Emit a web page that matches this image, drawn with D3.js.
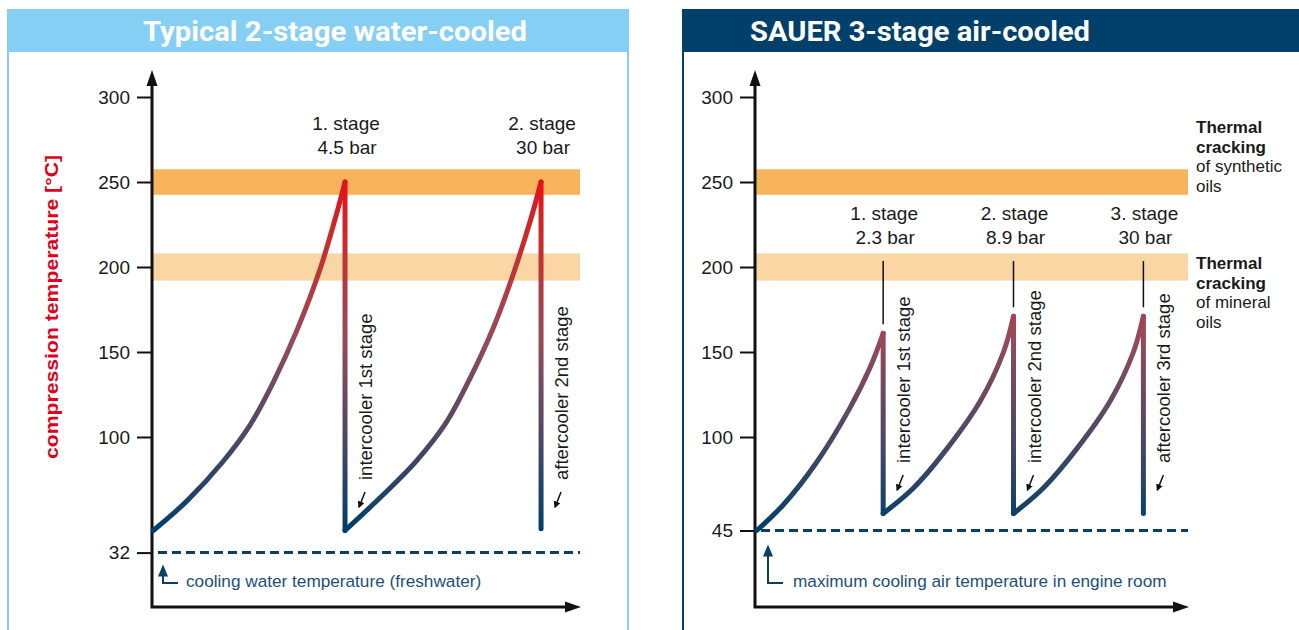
<!DOCTYPE html>
<html>
<head>
<meta charset="utf-8">
<script src="https://cdn.jsdelivr.net/npm/d3@7"></script>
<style>
  body { margin: 0; background: #fff; }
  svg { display: block; font-family: "Liberation Sans", Arial, sans-serif; }
</style>
</head>
<body>
<script>
// ---- data ----
const leftTicks = [32, 100, 150, 200, 250, 300];
const rightTicks = [45, 100, 150, 200, 250, 300];

// thermal cracking bands [from, to] in °C: synthetic oils, mineral oils
const crackingBands = [[242.5, 257.5], [192, 208]];

const leftStages = ["1. stage", "2. stage"];
const leftPressures = ["4.5 bar", "30 bar"];
const rightStages = ["1. stage", "2. stage", "3. stage"];
const rightPressures = ["2.3 bar", "8.9 bar", "30 bar"];

const leftCoolers = ["intercooler 1st stage", "aftercooler 2nd stage"];
const rightCoolers = ["intercooler 1st stage", "intercooler 2nd stage", "aftercooler 3rd stage"];

const leftCoolingTemp = 32;
const rightCoolingTemp = 45;

// compression curves, [process position 0..100, temperature °C]
const leftRise = [
  [[0.3, 45], [8, 62], [16.4, 85], [22.9, 107], [28.3, 132], [33.9, 163], [39.3, 199], [43.2, 232], [45.1, 250]],
  [[45.1, 45], [54, 66], [61.8, 86], [68.6, 108], [74, 133], [79.7, 164], [84.3, 195], [88.6, 229], [90.9, 250]]
];
// cooling drops [position, from °C, to °C]
const leftDrops = [[45.1, 250, 45], [90.9, 250, 46]];

const rightRise = [
  [[0.4, 45], [6.5, 60], [14.2, 85], [21.9, 117], [26.6, 141], [29.6, 161]],
  [[29.6, 55], [36.6, 70], [44.3, 93], [52, 121], [57.4, 150], [59.7, 171]],
  [[59.7, 55], [66.6, 70], [74.3, 93], [82, 121], [87.4, 150], [89.7, 171]]
];
const rightDrops = [[29.6, 161, 55], [59.7, 171, 55], [89.7, 171, 55]];

const syntheticLabel = ["Thermal", "cracking", "of synthetic", "oils"];
const mineralLabel = ["Thermal", "cracking", "of mineral", "oils"];

// ---- drawing ----
const W = 1299, H = 630;
const svg = d3.select("body").append("svg").attr("width", W).attr("height", H);
const defs = svg.append("defs");

defs.append("marker")
  .attr("id", "tip")
  .attr("viewBox", "0 0 10 10")
  .attr("refX", 8).attr("refY", 5)
  .attr("markerWidth", 7).attr("markerHeight", 7)
  .attr("markerUnits", "userSpaceOnUse")
  .attr("orient", "auto")
  .append("path").attr("d", "M0,0 L10,5 L0,10 z").attr("fill", "#111");

const bandColors = ["#f8b45d", "#fbd6a5"];
const navy = "#0b3f66";
const y = d3.scaleLinear().domain([0, 300]).range([607, 97]);

function drawPanel(p) {
  const g = svg.append("g");
  const x = d3.scaleLinear().domain([0, 100]).range(p.xRange);
  const x0 = x(0);

  // frame + header
  g.append("rect")
    .attr("x", p.frame[0]).attr("y", 10)
    .attr("width", p.frame[1] - p.frame[0]).attr("height", H)
    .attr("fill", "none").attr("stroke", p.frameColor).attr("stroke-width", 2);
  g.append("rect")
    .attr("x", p.frame[0] - 1).attr("y", 10)
    .attr("width", p.frame[1] - p.frame[0] + 2).attr("height", 42)
    .attr("fill", p.frameColor);
  g.append("text")
    .attr("x", p.titleX).attr("y", 41)
    .attr("text-anchor", p.titleAnchor)
    .attr("textLength", p.titleLen).attr("lengthAdjust", "spacingAndGlyphs")
    .style("font-family", "Roboto, sans-serif")
    .style("font-weight", 700).style("font-size", "27px")
    .attr("fill", "#fff")
    .text(p.title);

  // cracking bands
  g.selectAll(".band")
    .data(crackingBands)
    .join("rect")
    .attr("x", x0 + 1)
    .attr("width", x(100) - x0 - 1)
    .attr("y", d => y(d[1]))
    .attr("height", d => y(d[0]) - y(d[1]))
    .attr("fill", (d, i) => bandColors[i]);

  // y axis ticks
  const ax = g.append("g")
    .attr("transform", `translate(${x0},0)`)
    .call(d3.axisLeft(y).tickValues(p.ticks).tickSize(15).tickPadding(7).tickFormat(d3.format("d")));
  ax.select(".domain").remove();
  ax.selectAll(".tick line").attr("stroke", "#111").attr("stroke-width", 2);
  ax.selectAll(".tick text")
    .attr("fill", "#1a1a1a")
    .style("font-family", "\"Liberation Sans\", Arial, sans-serif")
    .style("font-size", "19px");

  // axes with arrowheads
  g.append("path")
    .attr("d", `M${x0},${y(0) + 1.5}V80M${x0 - 1.5},${y(0)}H${x(100) - 12}`)
    .attr("fill", "none").attr("stroke", "#111").attr("stroke-width", 3);
  g.append("path")
    .attr("d", `M${x0},70L${x0 - 5.5},86L${x0 + 5.5},86Z`)
    .attr("fill", "#111");
  g.append("path")
    .attr("d", `M${x(100) + 1},${y(0)}L${x(100) - 15},${y(0) - 5.5}L${x(100) - 15},${y(0) + 5.5}Z`)
    .attr("fill", "#111");

  // cooling temperature line
  g.append("line")
    .attr("x1", x0 + 6).attr("x2", x(100))
    .attr("y1", y(p.coolTemp)).attr("y2", y(p.coolTemp))
    .attr("stroke", navy).attr("stroke-width", 3)
    .attr("stroke-dasharray", "9,5");

  // marker bracket + note
  const bx = x0 + p.noteArrowDx;
  g.append("path")
    .attr("d", `M${bx},${y(p.coolTemp) + p.noteArrowTop + 10}V583H${bx + 15}`)
    .attr("fill", "none").attr("stroke", navy).attr("stroke-width", 2);
  g.append("path")
    .attr("d", `M${bx},${y(p.coolTemp) + p.noteArrowTop}l-5,12h10z`)
    .attr("fill", navy);
  g.append("text")
    .attr("x", x0 + p.noteDx).attr("y", 587)
    .attr("fill", "#1c4f7c")
    .style("font-size", "17.2px")
    .text(p.note);

  // temperature curves with vertical colour gradient
  const gid = "grad" + p.id;
  const grad = defs.append("linearGradient")
    .attr("id", gid).attr("gradientUnits", "userSpaceOnUse")
    .attr("x1", 0).attr("x2", 0).attr("y1", y(45)).attr("y2", y(250));
  [[0, "#003f69"], [0.25, "#474866"], [0.55, "#964a5a"], [0.8, "#c4302f"], [1, "#e3121b"]]
    .forEach(s => grad.append("stop").attr("offset", s[0]).attr("stop-color", s[1]));

  const line = d3.line().x(d => x(d[0])).y(d => y(d[1])).curve(d3.curveCatmullRom.alpha(0.5));
  g.selectAll(".rise")
    .data(p.rise)
    .join("path")
    .attr("d", line)
    .attr("fill", "none").attr("stroke", `url(#${gid})`)
    .attr("stroke-width", 5).attr("stroke-linecap", "round").attr("stroke-linejoin", "round");
  g.selectAll(".drop")
    .data(p.drops)
    .join("path")
    .attr("d", d => `M${x(d[0])},${y(d[1])}V${y(d[2])}`)
    .attr("fill", "none").attr("stroke", `url(#${gid})`)
    .attr("stroke-width", 5).attr("stroke-linecap", "round");

  // stage labels above the peaks
  const st = g.selectAll(".stage")
    .data(p.drops)
    .join("text")
    .attr("text-anchor", "middle")
    .attr("fill", "#1a1a1a")
    .style("font-size", "19px");
  st.append("tspan")
    .attr("x", d => x(d[0]) + 1).attr("y", p.stageY)
    .text((d, i) => p.stages[i]);
  st.append("tspan")
    .attr("x", d => x(d[0]) + 2).attr("y", p.stageY + 24)
    .text((d, i) => p.pressures[i]);

  // leader lines (right panel)
  if (p.leaders) {
    g.selectAll(".leader")
      .data(p.drops)
      .join("line")
      .attr("x1", d => x(d[0])).attr("x2", d => x(d[0]))
      .attr("y1", y(203.5)).attr("y2", d => y(d[1]) - 9)
      .attr("stroke", "#111").attr("stroke-width", 1.5);
  }

  // cooler labels (rotated) + small arrows
  g.selectAll(".cooler")
    .data(p.drops)
    .join("text")
    .attr("transform", d => `translate(${x(d[0]) + 27},${y(p.coolerFrom)}) rotate(-90)`)
    .attr("fill", "#1a1a1a")
    .style("font-size", "18.5px")
    .text((d, i) => p.coolers[i]);
  g.selectAll(".carrow")
    .data(p.drops)
    .join("line")
    .attr("x1", d => x(d[0]) + 20).attr("y1", y(p.coolerFrom) + 12)
    .attr("x2", d => x(d[0]) + 14).attr("y2", y(p.coolerFrom) + 27)
    .attr("stroke", "#111").attr("stroke-width", 1.5)
    .attr("marker-end", "url(#tip)");

  return { g, x };
}

// left panel
const left = drawPanel({
  id: "L",
  xRange: [152, 580],
  frame: [8, 628],
  frameColor: "#86cff4",
  title: "Typical 2-stage water-cooled",
  titleX: 335, titleAnchor: "middle", titleLen: 384,
  ticks: leftTicks,
  coolTemp: leftCoolingTemp,
  note: "cooling water temperature (freshwater)",
  noteArrowDx: 11, noteArrowTop: 12, noteDx: 34,
  rise: leftRise, drops: leftDrops,
  stages: leftStages, pressures: leftPressures, stageY: 130,
  coolers: leftCoolers, coolerFrom: 74.7,
  leaders: false
});

// y axis title
svg.append("text")
  .attr("transform", "translate(58,307) rotate(-90)")
  .attr("text-anchor", "middle")
  .attr("textLength", 304).attr("lengthAdjust", "spacingAndGlyphs")
  .attr("fill", "#e1001a")
  .style("font-weight", 700).style("font-size", "19px")
  .text("compression temperature [°C]");

// right panel
const right = drawPanel({
  id: "R",
  xRange: [755, 1188],
  frame: [683, 1300],
  frameColor: "#00406b",
  title: "SAUER 3-stage air-cooled",
  titleX: 750, titleAnchor: "start", titleLen: 340,
  ticks: rightTicks,
  coolTemp: rightCoolingTemp,
  note: "maximum cooling air temperature in engine room",
  noteArrowDx: 13, noteArrowTop: 14, noteDx: 38,
  rise: rightRise, drops: rightDrops,
  stages: rightStages, pressures: rightPressures, stageY: 220,
  coolers: rightCoolers, coolerFrom: 84.7,
  leaders: true
});

// thermal cracking notes
[[syntheticLabel, 133], [mineralLabel, 269]].forEach(([lines, y0]) => {
  const t = right.g.append("text").attr("fill", "#1a1a1a").style("font-size", "17px");
  lines.forEach((s, i) => {
    t.append("tspan")
      .attr("x", 1196).attr("y", y0 + i * 19.5)
      .style("font-weight", i < 2 ? 700 : 400)
      .text(s);
  });
});
</script>
</body>
</html>
